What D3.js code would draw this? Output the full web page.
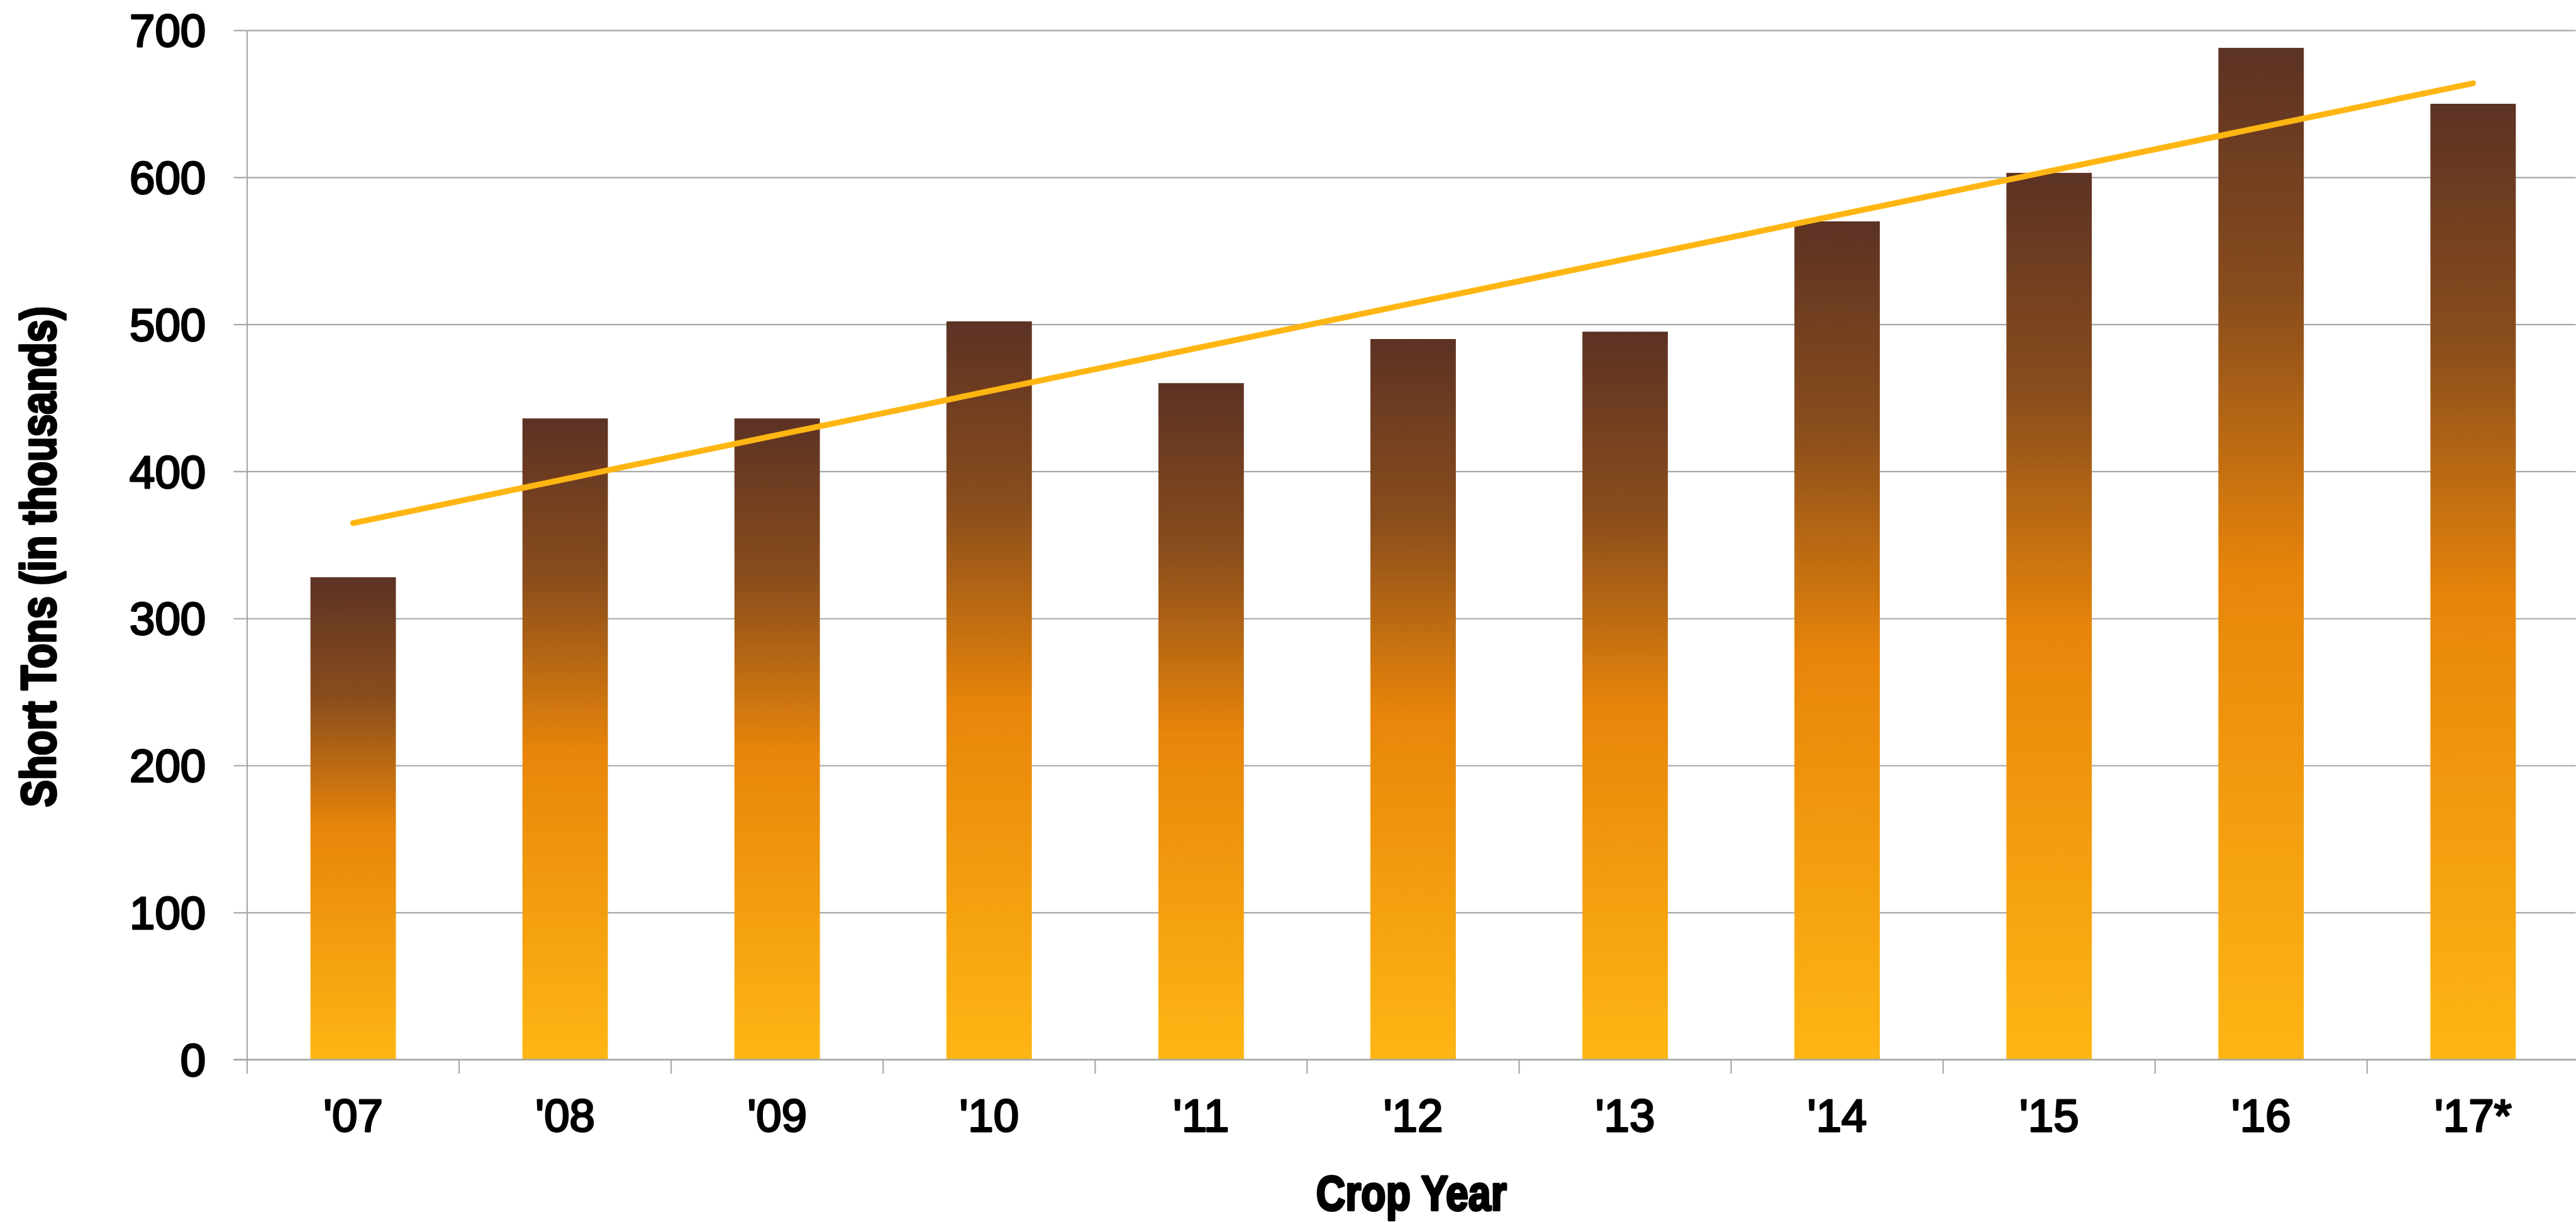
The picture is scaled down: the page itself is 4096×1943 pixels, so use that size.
<!DOCTYPE html>
<html>
<head>
<meta charset="utf-8">
<script src="https://cdn.jsdelivr.net/npm/d3@7/dist/d3.min.js"></script>
<style>
  html, body { margin: 0; padding: 0; background: #ffffff; overflow: hidden; }
  svg { display: block; }
</style>
</head>
<body>
<script>
// Crop-year production, thousands of short tons
const categories = ["'07", "'08", "'09", "'10", "'11", "'12", "'13", "'14", "'15", "'16", "'17*"];
const tons = [328, 436, 436, 502, 460, 490, 495, 570, 603, 688, 650];
const yTicks = [0, 100, 200, 300, 400, 500, 600, 700];

// Drawing space is laid out in a 4173 x 1980 frame and scaled to the window
const W = 4173, H = 1980;
const svg = d3.select("body").append("svg")
  .attr("width", 4096)
  .attr("height", 1943)
  .attr("viewBox", `0 0 ${W} ${H}`);

const plot = { left: 400, right: 4178.5, top: 49, bottom: 1716.7 };
const gridColor = "#a6a6a6";
const tickFont = "'Liberation Sans', Arial, sans-serif";
const titleFont = "'Liberation Sans', Arial, sans-serif";
const narrow = 0.82; // horizontal squeeze for the condensed axis titles

const x = d3.scaleBand()
  .domain(categories)
  .range([plot.left, plot.right])
  .paddingInner(0.597)
  .paddingOuter(0.2985);

const y = d3.scaleLinear()
  .domain([0, 700])
  .range([plot.bottom, plot.top]);

// Bar fill: dark brown at the top, orange through the middle, gold at the base
const defs = svg.append("defs");
const grad = defs.append("linearGradient")
  .attr("id", "barFill")
  .attr("x1", 0).attr("y1", 0).attr("x2", 0).attr("y2", 1);
[
  { o: "0%", c: "#5c3224" },
  { o: "25%", c: "#8a4d1c" },
  { o: "52%", c: "#e8850a" },
  { o: "100%", c: "#feb614" }
].forEach(s => grad.append("stop").attr("offset", s.o).attr("stop-color", s.c));

// Horizontal gridlines with left-hand ticks
const yAxis = d3.axisLeft(y)
  .tickValues(yTicks)
  .tickSize(-(W - plot.left))
  .tickPadding(0)
  .tickFormat("");
const gy = svg.append("g")
  .attr("transform", `translate(${plot.left},0)`)
  .call(yAxis);
gy.select(".domain").remove();
gy.selectAll(".tick line")
  .attr("x1", -22)
  .attr("stroke", gridColor)
  .attr("stroke-width", 2.2);

// Medium-weight tick text: regular face with a thin matching outline
function tickText(sel) {
  sel.attr("font-family", tickFont)
    .attr("font-size", 74)
    .attr("fill", "#000")
    .attr("stroke", "#000")
    .attr("stroke-width", 3)
    .attr("stroke-linejoin", "round")
    .attr("paint-order", "stroke");
}

// Heavy condensed title text
function titleText(sel) {
  sel.attr("text-anchor", "middle")
    .attr("font-family", titleFont)
    .attr("font-weight", "bold")
    .attr("font-size", 80)
    .attr("fill", "#000")
    .attr("stroke", "#000")
    .attr("stroke-width", 4)
    .attr("stroke-linejoin", "round")
    .attr("paint-order", "stroke");
}

// Y tick labels
svg.append("g").selectAll("text")
  .data(yTicks)
  .join("text")
  .attr("x", 333)
  .attr("y", d => y(d))
  .attr("dy", "0.36em")
  .attr("text-anchor", "end")
  .call(tickText)
  .text(d => d);

// Vertical axis line
svg.append("line")
  .attr("x1", plot.left).attr("x2", plot.left)
  .attr("y1", plot.top).attr("y2", plot.bottom + 23)
  .attr("stroke", gridColor)
  .attr("stroke-width", 2.2);

// Category boundary ticks below the baseline
const boundaries = categories.slice(1).map(c => x(c) - x.step() * x.paddingInner() / 2);
svg.append("g").selectAll("line")
  .data(boundaries)
  .join("line")
  .attr("x1", d => d).attr("x2", d => d)
  .attr("y1", plot.bottom).attr("y2", plot.bottom + 23)
  .attr("stroke", gridColor)
  .attr("stroke-width", 2.2);

// Bars
svg.append("g").selectAll("rect")
  .data(tons)
  .join("rect")
  .attr("x", (d, i) => x(categories[i]))
  .attr("y", d => y(d))
  .attr("width", x.bandwidth())
  .attr("height", d => y(0) - y(d))
  .attr("fill", "url(#barFill)");

// Baseline drawn over the bars
svg.append("line")
  .attr("x1", plot.left - 22).attr("x2", W)
  .attr("y1", plot.bottom).attr("y2", plot.bottom)
  .attr("stroke", gridColor)
  .attr("stroke-width", 2.2);

// Linear trend (least squares over the crop years)
const n = tons.length;
const idx = d3.range(n);
const mx = d3.mean(idx), my = d3.mean(tons);
const slope = d3.sum(idx, i => (i - mx) * (tons[i] - my)) / d3.sum(idx, i => (i - mx) ** 2);
const intercept = my - slope * mx;
const trend = [0, n - 1].map(i => ({ cat: categories[i], v: intercept + slope * i }));

svg.append("path")
  .datum(trend)
  .attr("d", d3.line()
    .x(d => x(d.cat) + x.bandwidth() / 2)
    .y(d => y(d.v)))
  .attr("fill", "none")
  .attr("stroke", "#ffb612")
  .attr("stroke-width", 9.5)
  .attr("stroke-linecap", "round");

// X tick labels
svg.append("g").selectAll("text")
  .data(categories)
  .join("text")
  .attr("x", d => x(d) + x.bandwidth() / 2)
  .attr("y", 1833)
  .attr("text-anchor", "middle")
  .call(tickText)
  .text(d => d);

// Axis titles
svg.append("text")
  .attr("transform", `translate(${(plot.left + W) / 2},1961) scale(${narrow},1)`)
  .call(titleText)
  .text("Crop Year");

svg.append("text")
  .attr("transform", `translate(89,902) rotate(-90) scale(${narrow},1)`)
  .call(titleText)
  .text("Short Tons (in thousands)");
</script>
</body>
</html>
